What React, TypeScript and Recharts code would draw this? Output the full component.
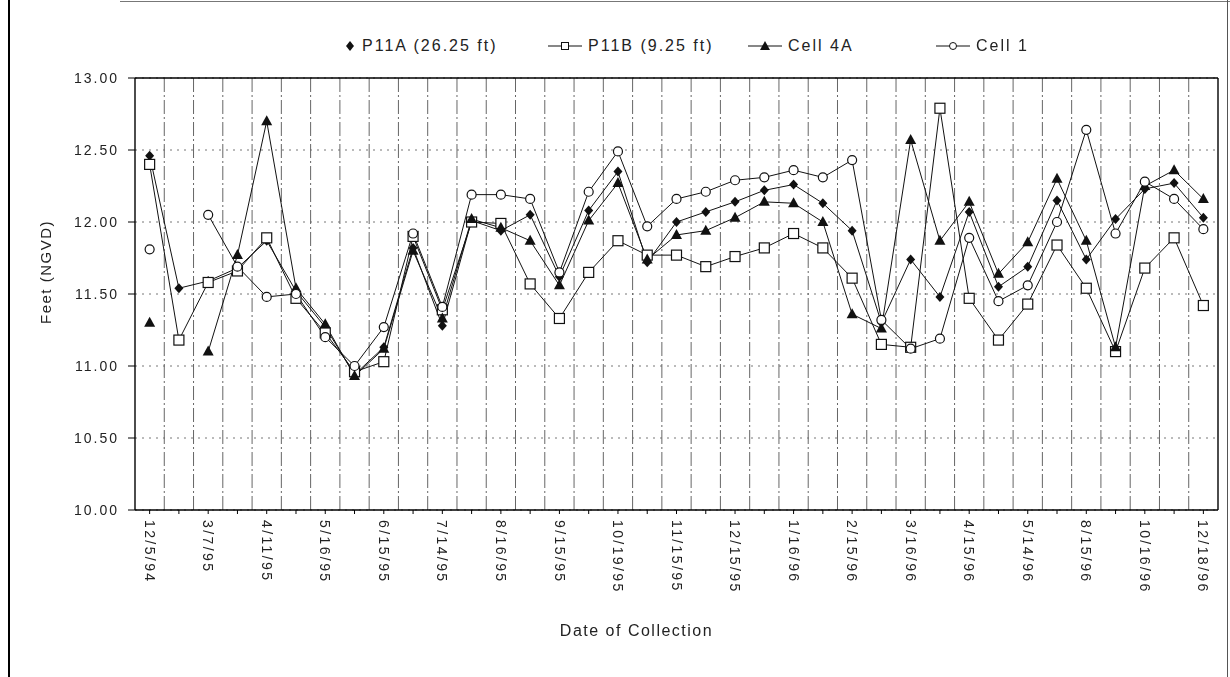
import React from 'react';
import { CartesianGrid, Label, Line, LineChart, XAxis, YAxis } from 'recharts';

// sampling dates (only every second one is labelled on the original axis)
const dates = [
  '12/5/94', '', '3/7/95', '', '4/11/95', '', '5/16/95', '', '6/15/95', '',
  '7/14/95', '', '8/16/95', '', '9/15/95', '', '10/19/95', '', '11/15/95', '',
  '12/15/95', '', '1/16/96', '', '2/15/96', '', '3/16/96', '', '4/15/96', '',
  '5/14/96', '', '8/15/96', '', '10/16/96', '', '12/18/96',
];

const p11a = [
  12.46, 11.54, 11.59, 11.68, 11.87, 11.52, 11.27, 10.94, 11.13, 11.82,
  11.28, 12.01, 11.94, 12.05, 11.62, 12.08, 12.35, 11.72, 12.0, 12.07,
  12.14, 12.22, 12.26, 12.13, 11.94, 11.3, 11.74, 11.48, 12.07, 11.55,
  11.69, 12.15, 11.74, 12.02, 12.23, 12.27, 12.03,
];

const p11b = [
  12.4, 11.18, 11.58, 11.66, 11.89, 11.47, 11.23, 10.96, 11.03, 11.9,
  11.39, 12.0, 11.99, 11.57, 11.33, 11.65, 11.87, 11.77, 11.77, 11.69,
  11.76, 11.82, 11.92, 11.82, 11.61, 11.15, 11.13, 12.79, 11.47, 11.18,
  11.43, 11.84, 11.54, 11.1, 11.68, 11.89, 11.42,
];

const cell4a = [
  11.3, null, 11.1, 11.77, 12.7, 11.54, 11.29, 10.93, 11.12, 11.8,
  11.33, 12.02, 11.96, 11.87, 11.56, 12.01, 12.27, 11.74, 11.91, 11.94,
  12.03, 12.14, 12.13, 12.0, 11.36, 11.26, 12.57, 11.87, 12.14, 11.64,
  11.86, 12.3, 11.87, 11.13, 12.25, 12.36, 12.16,
];

const cell1 = [
  11.81, null, 12.05, 11.69, 11.48, 11.5, 11.2, 11.0, 11.27, 11.92,
  11.41, 12.19, 12.19, 12.16, 11.65, 12.21, 12.49, 11.97, 12.16, 12.21,
  12.29, 12.31, 12.36, 12.31, 12.43, 11.32, 11.12, 11.19, 11.89, 11.45,
  11.56, 12.0, 12.64, 11.92, 12.28, 12.16, 11.95,
];

const yTicks = [10, 10.5, 11, 11.5, 12, 12.5, 13];

const seriesNames = ['P11A (26.25 ft)', 'P11B (9.25 ft)', 'Cell 4A', 'Cell 1'];

const data = dates.map((date, i) => ({
  date,
  p11a: p11a[i],
  p11b: p11b[i],
  cell4a: cell4a[i],
  cell1: cell1[i],
}));

const FONT = '"Liberation Sans", Arial, Helvetica, sans-serif';
const INK = '#111';

const CHART_W = 1214;
const CHART_H = 660;
const MARGIN = { top: 70, right: 4, left: 67, bottom: 48 };
const Y_AXIS_W = 60;
const PLOT_W = CHART_W - MARGIN.left - MARGIN.right - Y_AXIS_W;
const N = dates.length;
const HALF_BAND = PLOT_W / N / 2;

const diamond = (props: any) => {
  const { cx, cy, index } = props;
  if (cx == null || cy == null) return <g key={`a-${index}`} />;
  return (
    <polygon
      key={`a-${index}`}
      points={`${cx},${cy - 5} ${cx + 4.5},${cy} ${cx},${cy + 5} ${cx - 4.5},${cy}`}
      fill={INK}
    />
  );
};

const square = (props: any) => {
  const { cx, cy, index } = props;
  if (cx == null || cy == null) return <g key={`b-${index}`} />;
  return <rect key={`b-${index}`} x={cx - 5} y={cy - 5} width={10} height={10} fill="#fff" stroke={INK} strokeWidth={1.2} />;
};

const triangle = (props: any) => {
  const { cx, cy, index } = props;
  if (cx == null || cy == null) return <g key={`c-${index}`} />;
  return (
    <polygon
      key={`c-${index}`}
      points={`${cx},${cy - 6} ${cx + 5.5},${cy + 4} ${cx - 5.5},${cy + 4}`}
      fill={INK}
    />
  );
};

const circle = (props: any) => {
  const { cx, cy, index } = props;
  if (cx == null || cy == null) return <g key={`d-${index}`} />;
  return <circle key={`d-${index}`} cx={cx} cy={cy} r={4.5} fill="#fff" stroke={INK} strokeWidth={1.2} />;
};

const DateTick = ({ x, y, payload }: any) => (
  <g transform={`translate(${x},${y + 4})`}>
    <text
      transform="rotate(90)"
      x={0}
      y={0}
      dy="0.35em"
      textAnchor="start"
      fontSize={14}
      fontFamily={FONT}
      letterSpacing={2.4}
      fill="#222"
    >
      {payload.value}
    </text>
  </g>
);

const legendMark = (i: number) => {
  if (i === 0) {
    return (
      <svg width={12} height={14}>
        <polygon points="6,2 10,7 6,12 2,7" fill={INK} />
      </svg>
    );
  }
  return (
    <svg width={34} height={14}>
      <line x1={0} y1={7} x2={34} y2={7} stroke={INK} strokeWidth={1.2} />
      {i === 1 && <rect x={13.5} y={3.5} width={7} height={7} fill="#fff" stroke={INK} />}
      {i === 2 && <polygon points="17,2 22,11 12,11" fill={INK} />}
      {i === 3 && <circle cx={17} cy={7} r={3.5} fill="#fff" stroke={INK} />}
    </svg>
  );
};

const legendLeft = [344, 548, 748, 936];

export default function App() {
  return (
    <div style={{ position: 'relative', width: CHART_W, height: CHART_H, fontFamily: FONT }}>
      <div style={{ position: 'fixed', left: 8, top: 0, width: 2, height: 677, background: '#000' }} />
      <div style={{ position: 'fixed', left: 120, top: 1, width: 1110, height: 1, background: '#777' }} />
      <div style={{ position: 'fixed', left: 1227, top: 0, width: 1, height: 677, background: '#555' }} />

      {seriesNames.map((name, i) => (
        <div
          key={name}
          style={{
            position: 'absolute',
            left: legendLeft[i] - 8,
            top: 29,
            display: 'flex',
            alignItems: 'center',
            gap: 6,
            fontSize: 16,
            letterSpacing: 2,
            color: '#222',
            whiteSpace: 'nowrap',
          }}
        >
          {legendMark(i)}
          <span>{name}</span>
        </div>
      ))}

      <LineChart width={CHART_W} height={CHART_H} data={data} margin={MARGIN}>
        <CartesianGrid
          vertical={false}
          stroke="#777"
          strokeDasharray="2 5"
        />
        <CartesianGrid
          horizontal={false}
          stroke="#666"
          strokeDasharray="14 3 2 3"
          verticalCoordinatesGenerator={({ offset }: any) =>
            Array.from({ length: N - 1 }, (_, k) => offset.left + ((k + 1) * offset.width) / N)
          }
        />
        <CartesianGrid
          stroke="#000"
          strokeWidth={1.4}
          horizontalCoordinatesGenerator={({ offset }: any) => [offset.top]}
          verticalCoordinatesGenerator={({ offset }: any) => [offset.left + offset.width]}
        />
        <XAxis
          dataKey="date"
          interval={0}
          height={110}
          padding={{ left: HALF_BAND, right: HALF_BAND }}
          axisLine={{ stroke: '#000', strokeWidth: 1.4 }}
          tickLine={{ stroke: '#000' }}
          tickSize={4}
          tick={<DateTick />}
        >
          <Label
            content={({ viewBox }: any) => (
              <text
                x={viewBox.x + viewBox.width / 2 - 40}
                y={viewBox.y + viewBox.height + 16}
                textAnchor="middle"
                fontSize={16}
                fontFamily={FONT}
                letterSpacing={1.5}
                fill="#222"
              >
                Date of Collection
              </text>
            )}
          />
        </XAxis>
        <YAxis
          type="number"
          domain={[10, 13]}
          ticks={yTicks}
          width={Y_AXIS_W}
          tickFormatter={(v: number) => v.toFixed(2)}
          axisLine={{ stroke: '#000', strokeWidth: 1.4 }}
          tickLine={{ stroke: '#000' }}
          tickSize={7}
          tickMargin={9}
          tick={{ fontSize: 14, fill: '#222', fontFamily: FONT, letterSpacing: 2 }}
        >
          <Label
            content={({ viewBox }: any) => {
              const cx = 37;
              const cy = viewBox.y + viewBox.height / 2 - 22;
              return (
                <text
                  x={cx}
                  y={cy}
                  transform={`rotate(-90, ${cx}, ${cy})`}
                  textAnchor="middle"
                  dominantBaseline="central"
                  fontSize={15}
                  fontFamily={FONT}
                  letterSpacing={1.5}
                  fill="#222"
                >
                  Feet (NGVD)
                </text>
              );
            }}
          />
        </YAxis>
        <Line dataKey="p11a" name={seriesNames[0]} stroke={INK} strokeWidth={1} dot={diamond} isAnimationActive={false} />
        <Line dataKey="p11b" name={seriesNames[1]} stroke={INK} strokeWidth={1} dot={square} isAnimationActive={false} />
        <Line dataKey="cell4a" name={seriesNames[2]} stroke={INK} strokeWidth={1} dot={triangle} isAnimationActive={false} />
        <Line dataKey="cell1" name={seriesNames[3]} stroke={INK} strokeWidth={1} dot={circle} isAnimationActive={false} />
      </LineChart>
    </div>
  );
}
